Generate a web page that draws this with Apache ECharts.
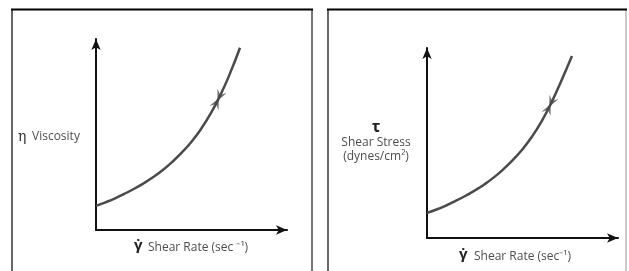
<!DOCTYPE html>
<html><head><meta charset="utf-8">
<script src="https://cdn.jsdelivr.net/npm/echarts@6/dist/echarts.min.js"></script>
<style>html,body{margin:0;padding:0;background:#fff}#c{width:629px;height:271px}</style>
</head><body><div id="c"></div>
<script>
// Left panel: viscosity vs shear rate (arbitrary units 0..10)
const viscX = [0, 0.5, 1, 1.5, 2, 2.5, 3, 3.5, 4, 4.5, 5, 5.5, 6, 6.5, 7, 7.54];
const viscY = [1.26, 1.45, 1.66, 1.9, 2.16, 2.45, 2.77, 3.14, 3.57, 4.06, 4.62, 5.29, 6.09, 7.04, 8.16, 9.54];
const viscArrow = [6.39, 6.83];
// Right panel: shear stress vs shear rate
const stressX = [0, 0.5, 1, 1.5, 2, 2.5, 3, 3.5, 4, 4.5, 5, 5.5, 6, 6.5, 7, 7.59];
const stressY = [1.32, 1.5, 1.71, 1.95, 2.21, 2.5, 2.82, 3.19, 3.62, 4.11, 4.67, 5.34, 6.14, 7.09, 8.2, 9.58];
const stressArrow = [6.44, 6.98];
const axisMin = 0, axisMax = 10;

const chart = echarts.init(document.getElementById('c'), null, {renderer:'canvas'});
const pair = (xs, ys) => xs.map((x,i)=>[x, ys[i]]);
const FONT = '"Open Sans", sans-serif';
const TXT = '#4d4d4d';
const CURVE = '#4a4a4a';
const arrowPath = 'path://M0,0 L6,12 L0,7 L-6,12 Z';

function axis(idx){
  return {
    gridIndex: idx, type:'value', min:axisMin, max:axisMax,
    axisLine:{show:true, onZero:false, symbol:['none','arrow'], symbolSize:[7,11], lineStyle:{color:'#111', width:2}},
    axisTick:{show:false}, axisLabel:{show:false}, splitLine:{show:false}
  };
}
const tangentDeg = 65;
const rad = tangentDeg*Math.PI/180;
const off = 4;
function arrowSeries(idx, pt){
  return [
    {type:'scatter', xAxisIndex:idx, yAxisIndex:idx, data:[pt], symbol:arrowPath, symbolSize:[10,11],
     symbolRotate: tangentDeg-90, symbolOffset:[-off*Math.cos(rad), off*Math.sin(rad)], itemStyle:{color:CURVE}, silent:true, z:5},
    {type:'scatter', xAxisIndex:idx, yAxisIndex:idx, data:[pt], symbol:arrowPath, symbolSize:[10,11],
     symbolRotate: tangentDeg+90, symbolOffset:[off*Math.cos(rad), -off*Math.sin(rad)], itemStyle:{color:CURVE}, silent:true, z:5}
  ];
}
function lineSeries(idx, data){
  return {type:'line', xAxisIndex:idx, yAxisIndex:idx, data, smooth:true, showSymbol:false,
    lineStyle:{color:CURVE, width:2.5}, silent:true};
}

chart.setOption({
  animation:false,
  grid:[
    {left:96, top:39, width:191, height:191},
    {left:427, top:48, width:191, height:190}
  ],
  xAxis:[axis(0), axis(1)],
  yAxis:[axis(0), axis(1)],
  series:[
    lineSeries(0, pair(viscX, viscY)),
    ...arrowSeries(0, viscArrow),
    lineSeries(1, pair(stressX, stressY)),
    ...arrowSeries(1, stressArrow)
  ],
  graphic:[
    // panel frames
    {type:'line', shape:{x1:12,y1:280,x2:12,y2:10}, style:{stroke:'#666', lineWidth:2}},
    {type:'line', shape:{x1:312,y1:280,x2:312,y2:10}, style:{stroke:'#777', lineWidth:2}},
    {type:'line', shape:{x1:11,y1:9.5,x2:313,y2:9.5}, style:{stroke:'#000', lineWidth:2}},
    {type:'line', shape:{x1:328,y1:280,x2:328,y2:10}, style:{stroke:'#666', lineWidth:2}},
    {type:'line', shape:{x1:626,y1:280,x2:626,y2:10}, style:{stroke:'#ccc', lineWidth:2}},
    {type:'line', shape:{x1:327,y1:9.5,x2:627,y2:9.5}, style:{stroke:'#000', lineWidth:2}},
    // left labels
    {type:'text', x:18, y:137, style:{text:'η', font:'14px "DejaVu Serif", serif', fill:'#333', verticalAlign:'middle'}},
    {type:'text', x:32, y:137, style:{text:'Viscosity', font:'12px '+FONT, fill:TXT, verticalAlign:'middle'}},
    {type:'text', x:134, y:246, style:{text:'γ̇', font:'bold 15px '+FONT, fill:'#222', verticalAlign:'middle'}},
    {type:'text', x:148, y:248, style:{text:'Shear Rate (sec ⁻¹)', font:'12px '+FONT, fill:TXT, verticalAlign:'middle'}},
    // right labels
    {type:'text', x:376, y:127, style:{text:'τ', font:'bold 16px '+FONT, fill:'#222', align:'center', verticalAlign:'middle'}},
    {type:'text', x:376, y:143, style:{text:'Shear Stress', font:'12px '+FONT, fill:TXT, align:'center', verticalAlign:'middle'}},
    {type:'text', x:376, y:157, style:{text:'(dynes/cm²)', font:'12px '+FONT, fill:TXT, align:'center', verticalAlign:'middle'}},
    {type:'text', x:459, y:255, style:{text:'γ̇', font:'bold 15px '+FONT, fill:'#222', verticalAlign:'middle'}},
    {type:'text', x:474, y:257, style:{text:'Shear Rate (sec⁻¹)', font:'12px '+FONT, fill:TXT, verticalAlign:'middle'}}
  ]
});
</script></body></html>
